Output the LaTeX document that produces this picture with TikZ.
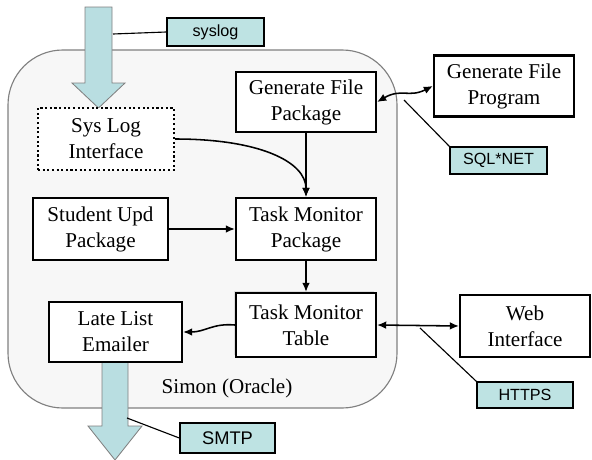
\documentclass[tikz,border=0pt]{standalone}
\usepackage{fontspec}
\setmainfont{Liberation Serif}
\setsansfont{Liberation Sans}
\usetikzlibrary{shadows, arrows.meta}

\definecolor{pipefill}{HTML}{B9DEE1}
\definecolor{tagfill}{HTML}{BEE3E3}

\tikzset{
	module/.style = {draw, line width = 1.5pt, fill = white, align = center, inner sep = 2pt,
		minimum width = 3.5cm, minimum height = 1.55cm, font = \fontsize{15}{18.5}\selectfont},
	tag/.style = {draw, line width = 1pt, fill = tagfill, inner sep = 0pt,
		minimum width = 2.425cm, minimum height = 0.7cm, font = \sffamily\fontsize{11.5}{13}\selectfont},
	pipe/.style = {draw = gray, fill = pipefill, line width = 0.6pt},
	link/.style = {line width = 1.1pt},
	leader/.style = {line width = 0.8pt}
}

\begin{document}
\begin{tikzpicture}[> = {Latex[length = 6.5pt, width = 5.5pt]}, x = 0.025cm, y = -0.025cm]

	\useasboundingbox (0, 0) rectangle (592, 460);

	% Database box
	
	\draw [draw = gray, fill = black!3, line width = 0.8pt, rounded corners = 39pt] (8, 50) rectangle (397, 408);
	\node (simon) at (227, 388) {\fontsize{15}{18}\selectfont Simon (Oracle)};
	
	% Wide pipes in and out
	
	\draw [pipe] (85, 7) -- (112, 7) -- (112, 83) -- (125, 83) -- (98.5, 108) -- (72, 83) -- (85, 83) -- cycle;
	\draw [pipe] (102, 362) -- (128, 362) -- (128, 426) -- (142, 426) -- (115, 460) -- (88, 426) -- (102, 426) -- cycle;
	
	% Modules
	
	\node [module, dash pattern = on 1.5pt off 1.8pt, minimum width = 3.4cm] (sysif) at (106, 139) {Sys Log\\Interface};
	\node [module, minimum height = 1.5cm] (genpkg) at (306, 102) {Generate File\\Package};
	\node [module, minimum height = 1.525cm] (genprog) at (504, 86) {Generate File\\Program};
	\node [module, minimum width = 3.375cm] (studpkg) at (100.5, 229) {Student Upd\\Package};
	\node [module] (monpkg) at (306, 229) {Task Monitor\\Package};
	\node [module, minimum height = 1.6cm, drop shadow = {shadow xshift = -1.5pt, shadow yshift = 1.5pt, fill = gray!45}] (montab) at (306, 325) {Task Monitor\\Table};
	\node [module, minimum width = 3.325cm, minimum height = 1.5cm] (emailer) at (115.5, 332) {Late List\\Emailer};
	\node [module, minimum width = 3.25cm] (webif) at (525, 326) {Web\\Interface};
	
	% Links between modules
	
	\draw [link, ->] (sysif.east) .. controls +(85, 0) and +(0, -35) .. (monpkg.north);
	\draw [link, ->] (genpkg.south) -- (monpkg.north);
	\draw [link, ->] (studpkg.east) -- (monpkg.west);
	\draw [link, ->] (monpkg.south) -- (montab.north);
	\draw [link, ->] (montab.west) .. controls +(-22, -2) and +(22, 0) .. (emailer.east);
	\draw [link, <->] (genpkg.east) .. controls +(24, -14) and +(-24, 12) .. (genprog.west);
	\draw [link, <->] (montab.east) -- (webif.west);
	
	% Protocol tags
	
	\node [tag] (syslog) at (215.5, 32) {syslog};
	\node [tag, minimum height = 0.675cm] (sqlnet) at (498.5, 160.5) {SQL*NET};
	\node [tag, minimum width = 2.4cm, minimum height = 0.65cm] (https) at (525, 395) {HTTPS};
	\node [tag, minimum width = 2.375cm, minimum height = 0.75cm, font = \sffamily\fontsize{13}{15}\selectfont] (smtp) at (227.5, 438) {SMTP};
	
	\coordinate (syslogpt) at (113, 34);
	\coordinate (sqlnetpt) at (404, 100);
	\coordinate (httpspt) at (420, 328);
	\coordinate (smtppt) at (127, 418);
	
	\draw [leader] (syslog.west) -- (syslogpt);
	\draw [leader] (sqlnet.north west) -- (sqlnetpt);
	\draw [leader] (https.north west) -- (httpspt);
	\draw [leader] (smtp.west) -- (smtppt);
	
\end{tikzpicture}
\end{document}
